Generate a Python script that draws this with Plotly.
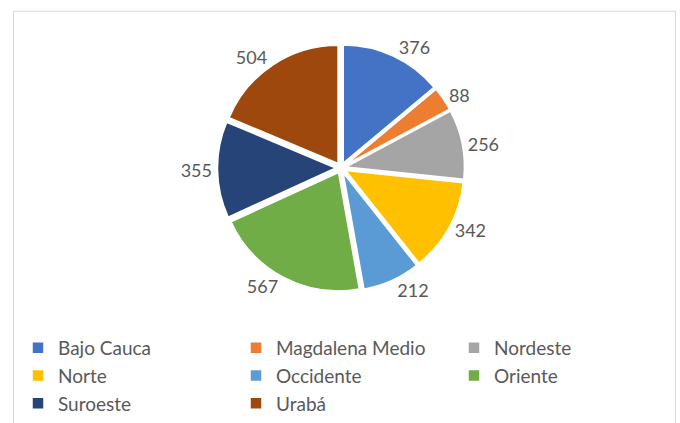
import plotly.graph_objects as go

regiones = ["Bajo Cauca", "Magdalena Medio", "Nordeste", "Norte", "Occidente",
            "Oriente", "Suroeste", "Urabá"]
valores = [376, 88, 256, 342, 212, 567, 355, 504]
colores = ["#4472C4", "#ED7D31", "#A5A5A5", "#FFC000", "#5B9BD5",
           "#70AD47", "#264478", "#9E480E"]

W, H = 680, 423
fuente = "Lato, 'Open Sans', sans-serif"

fig = go.Figure(go.Pie(
    labels=regiones,
    values=valores,
    sort=False,
    direction="clockwise",
    rotation=0,
    pull=0.045,
    marker=dict(colors=colores, line=dict(color="white", width=1.5)),
    textposition="outside",
    texttemplate="%{value}",
    textfont=dict(size=18, color="#595959", family=fuente),
    hoverinfo="label+value",
    domain=dict(x=[214.5 / W, 467.5 / W], y=[(H - 298.5) / H, (H - 45.5) / H]),
))

# marco gris claro del area del grafico
fig.add_shape(type="rect", xref="paper", yref="paper",
              x0=13.5 / W, x1=675.5 / W, y0=-0.2, y1=(H - 11.5) / H,
              line=dict(color="#D9D9D9", width=1))

fig.update_layout(
    width=W, height=H,
    margin=dict(l=0, r=0, t=0, b=0),
    paper_bgcolor="white",
    plot_bgcolor="white",
    font=dict(family=fuente, color="#595959"),
    showlegend=True,
    legend=dict(orientation="h", x=18 / W, xanchor="left",
                y=(H - 337) / H, yanchor="top",
                entrywidth=173, entrywidthmode="pixels",
                itemwidth=30,
                font=dict(size=19, color="#595959", family=fuente),
                itemclick=False),
)

# quitar el margen por defecto del body para que la figura quede en 0,0
fig.write_html("out.html", config={"displayModeBar": False},
               post_script="document.body.style.margin='0';")
